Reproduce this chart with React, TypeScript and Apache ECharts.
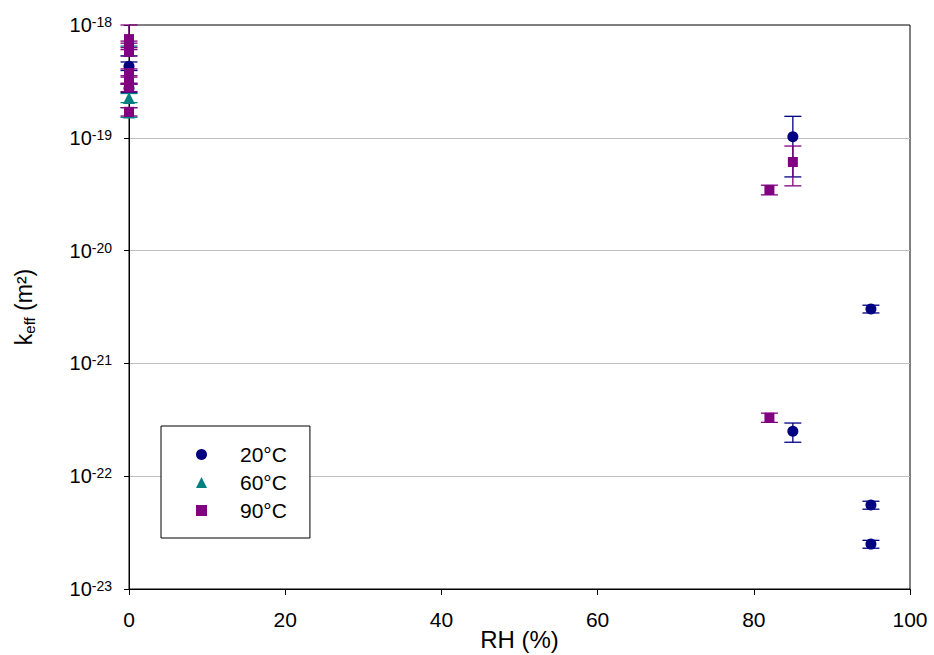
import React, { useEffect, useRef } from "react";
import * as echarts from "echarts";

const FONT = "'Liberation Sans', Arial, sans-serif";

// 20 °C
const rh20 = [0, 0, 85, 85, 95, 95, 95];
const k20 = [4.3e-19, 2.75e-19, 1.02e-19, 2.5e-22, 3.03e-21, 5.55e-23, 2.5e-23];
const k20Lo = [3.95e-19, 2.52e-19, 4.5e-20, 2.0e-22, 2.8e-21, 5.1e-23, 2.3e-23];
const k20Hi = [4.7e-19, 3.0e-19, 1.55e-19, 2.96e-22, 3.28e-21, 6.0e-23, 2.7e-23];

// 60 °C
const rh60 = [0, 0, 0];
const k60 = [5.9e-19, 2.25e-19, 1.68e-19];
const k60Lo = [5.35e-19, 2.05e-19, 1.52e-19];
const k60Hi = [6.5e-19, 2.47e-19, 1.85e-19];

// 90 °C
const rh90 = [0, 0, 0, 0, 0, 0, 0, 82, 85, 82];
const k90 = [7.5e-19, 6.6e-19, 5.8e-19, 3.75e-19, 3.25e-19, 2.8e-19, 1.7e-19, 3.45e-20, 6.1e-20, 3.3e-22];
const k90Lo = [6.9e-19, 6.05e-19, 5.3e-19, 3.45e-19, 2.98e-19, 2.57e-19, 1.56e-19, 3.12e-20, 3.75e-20, 3.0e-22];
const k90Hi = [1.0e-18, 7.2e-19, 6.3e-19, 4.08e-19, 3.55e-19, 3.05e-19, 1.85e-19, 3.8e-20, 8.45e-20, 3.62e-22];

const seriesNames = ["20°C", "60°C", "90°C"];
const colors = ["#000080", "#008080", "#800080"];
const symbols = ["circle", "triangle", "rect"];
const symbolSizes = [11, 12, 10];

const xTicks = { min: 0, max: 100, interval: 20 };
// y axis: decades (powers of ten) from 10^-23 to 10^-18
const yExponents = { min: -23, max: -18, interval: 1 };

const lg = (v: number) => Math.log10(v);

function build(rh: number[], k: number[], lo: number[], hi: number[]) {
  return rh.map((x, i) => [x, lg(k[i]), lg(lo[i]), lg(hi[i])]);
}

export default function App() {
  const ref = useRef<HTMLDivElement>(null);
  useEffect(() => {
    if (!ref.current) return;
    const chart = echarts.init(ref.current, undefined, { renderer: "svg" });
    const groups = [
      build(rh20, k20, k20Lo, k20Hi),
      build(rh60, k60, k60Lo, k60Hi),
      build(rh90, k90, k90Lo, k90Hi),
    ];
    const series: any[] = [];
    groups.forEach((data, gi) => {
      const color = colors[gi];
      series.push({
        type: "custom",
        name: seriesNames[gi] + " err",
        data,
        z: 2 + gi * 2,
        clip: false,
        encode: { x: 0, y: 1 },
        silent: true,
        renderItem: (params: any, api: any) => {
          const x = api.value(0);
          const lo = api.value(2);
          const hi = api.value(3);
          const p1 = api.coord([x, hi]);
          const p2 = api.coord([x, lo]);
          const hw = 8.5;
          const st = { stroke: color, lineWidth: 1.3 };
          return {
            type: "group",
            children: [
              { type: "line", shape: { x1: p1[0], y1: p1[1], x2: p2[0], y2: p2[1] }, style: st },
              { type: "line", shape: { x1: p1[0] - hw, y1: p1[1], x2: p1[0] + hw, y2: p1[1] }, style: st },
              { type: "line", shape: { x1: p2[0] - hw, y1: p2[1], x2: p2[0] + hw, y2: p2[1] }, style: st },
            ],
          };
        },
      });
      series.push({
        type: "scatter",
        name: seriesNames[gi],
        data: data.map((d) => [d[0], d[1]]),
        symbol: symbols[gi],
        symbolSize: symbolSizes[gi],
        itemStyle: { color, opacity: 1 },
        z: 3 + gi * 2,
        clip: false,
      });
    });

    chart.setOption({
      animation: false,
      backgroundColor: "#ffffff",
      textStyle: { fontFamily: FONT },
      grid: {
        left: 129,
        right: 24,
        top: 25,
        bottom: 66,
        outerBoundsMode: "none",
        containLabel: false,
        show: true,
        borderColor: "#000",
        borderWidth: 1,
        backgroundColor: "transparent",
      },
      legend: {
        left: 161,
        top: 426,
        orient: "vertical",
        backgroundColor: "#fff",
        borderColor: "#000",
        borderWidth: 1,
        borderRadius: 0,
        padding: [18, 23, 17, 35],
        itemWidth: 11,
        itemHeight: 11,
        itemGap: 7,
        textStyle: { fontSize: 21, fontFamily: FONT, color: "#000", padding: [0, 0, 0, 28] },
        data: seriesNames.map((n, i) => ({ name: n, icon: symbols[i], itemStyle: { color: colors[i], opacity: 1 } })),
      },
      xAxis: {
        type: "value",
        min: xTicks.min,
        max: xTicks.max,
        interval: xTicks.interval,
        axisLine: { lineStyle: { color: "#000", width: 1 } },
        axisTick: { show: true, inside: false, length: 6, lineStyle: { color: "#000" } },
        splitLine: { show: false },
        axisLabel: { color: "#000", fontSize: 21, fontFamily: FONT, margin: 20 },
        name: "RH (%)",
        nameLocation: "middle",
        nameGap: 38,
        nameMoveOverlap: false,
        nameTextStyle: { color: "#000", fontSize: 24, fontFamily: FONT },
      },
      yAxis: {
        type: "value",
        min: yExponents.min,
        max: yExponents.max,
        interval: yExponents.interval,
        axisLine: { show: true, lineStyle: { color: "#000", width: 1 } },
        axisTick: { show: true, inside: false, length: 5, lineStyle: { color: "#000" } },
        splitLine: { show: true, showMinLine: false, showMaxLine: false, lineStyle: { color: "#c0c0c0", width: 1 } },
        axisLabel: {
          margin: 17,
          formatter: (v: number) => {
            const e = Math.round(v);
            return "{b|10}{s|" + (e < 0 ? "-" + Math.abs(e) : String(e)) + "}";
          },
          rich: {
            b: { fontSize: 20, fontFamily: FONT, color: "#000", lineHeight: 22 },
            s: { fontSize: 14, fontFamily: FONT, color: "#000", verticalAlign: "top", lineHeight: 14, padding: [1, 0, 0, 0] },
          },
        },
        name: "{k|k}{sub|eff}{n| (m²)}",
        nameLocation: "middle",
        nameRotate: 90,
        nameGap: 92,
        nameMoveOverlap: false,
        nameTextStyle: {
          rich: {
            k: { fontSize: 23, fontFamily: FONT, color: "#000", lineHeight: 27 },
            sub: { fontSize: 15, fontFamily: FONT, color: "#000", verticalAlign: "bottom", lineHeight: 15 },
            n: { fontSize: 23, fontFamily: FONT, color: "#000", lineHeight: 27 },
          },
        },
      },
      series,
    });
    return () => chart.dispose();
  }, []);
  return <div ref={ref} style={{ width: 934, height: 655, position: "absolute", left: 0, top: 0 }} />;
}
